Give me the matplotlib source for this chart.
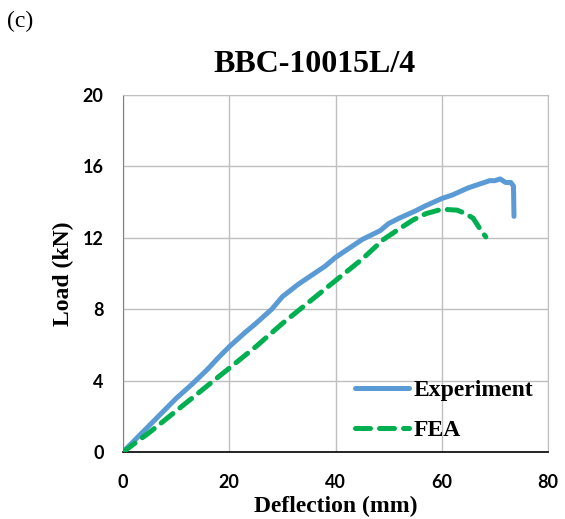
import matplotlib
matplotlib.use("Agg")
import matplotlib.pyplot as plt

exp_x = [0, 2, 5, 8, 10, 13, 15.8, 18, 20, 23, 25, 28, 30, 33, 35, 38, 40, 43, 45, 48.4,
         50, 52, 55, 57, 60, 62, 65, 67, 69, 70, 71, 72, 73, 73.5, 73.6]
exp_y = [0, 0.6, 1.5, 2.4, 3.0, 3.8, 4.6, 5.3, 5.9, 6.7, 7.2, 8.0, 8.7, 9.4, 9.8, 10.4, 10.9,
         11.5, 11.9, 12.4, 12.8, 13.1, 13.5, 13.8, 14.2, 14.4, 14.8, 15.0, 15.2, 15.2, 15.3,
         15.1, 15.1, 14.9, 13.2]

fea_x = [0, 5, 10, 15, 19.6, 25, 30, 35, 40, 45, 49, 52, 54.6, 57, 60, 62.9, 64.5, 65.9, 67.2, 68.3]
fea_y = [0, 1.1, 2.3, 3.5, 4.6, 5.9, 7.2, 8.4, 9.6, 10.8, 11.9, 12.5, 13.0, 13.35, 13.6,
         13.55, 13.35, 13.1, 12.5, 12.05]

x_ticks = [0, 20, 40, 60, 80]
y_ticks = [0, 4, 8, 12, 16, 20]

serif = "Liberation Serif"
sans = "Lato"

fig = plt.figure(figsize=(5.65, 5.19), dpi=100)
ax = fig.add_axes([123/565, 1-452/519, 425/565, 357/519])

ax.plot(exp_x, exp_y, color="#5B9BD5", lw=3.6, solid_capstyle="round", label="Experiment", zorder=3)
ax.plot(fea_x, fea_y, color="#00B050", lw=3.6, ls=(0, (3, 1.8)), dash_capstyle="round",
        label="FEA", zorder=3)

ax.set_xlim(0, 80)
ax.set_ylim(0, 20)
ax.set_xticks(x_ticks)
ax.set_yticks(y_ticks)
ax.grid(True, color="#BFBFBF", lw=1)
ax.set_axisbelow(True)
ax.tick_params(axis="x", length=0, pad=16)
ax.tick_params(axis="y", length=0, pad=14)
for lab in ax.get_xticklabels() + ax.get_yticklabels():
    lab.set_fontfamily(sans)
    lab.set_fontweight("bold")
    lab.set_fontsize(13)
for s in ["top", "right"]:
    ax.spines[s].set_color("#BFBFBF")
ax.spines["left"].set_color("#808080")
ax.spines["bottom"].set_color("#000000")
ax.spines["bottom"].set_linewidth(1.2)

ax.set_xlabel("Deflection (mm)", fontfamily=serif, fontweight="bold", fontsize=17)
ax.xaxis.set_label_coords(0.5, -(506-452)/357)
ax.xaxis.label.set_va("center")
ax.set_ylabel("Load (kN)", fontfamily=serif, fontweight="bold", fontsize=17, labelpad=6)

fig.text(0.557, 1-65/519, "BBC-10015L/4", fontfamily=serif, fontweight="bold", fontsize=23,
         ha="center", va="center")
fig.text(7/565, 1-21/519, "(c)", fontfamily=serif, fontsize=17, ha="left", va="center")

leg = ax.legend(loc="lower left", bbox_to_anchor=((355-123)/425, 0.03), frameon=False,
                prop={"family": serif, "weight": "bold", "size": 17},
                handlelength=2.3, handletextpad=0.2, labelspacing=0.8,
                borderpad=0, borderaxespad=0)

fig.savefig("out.png", dpi=100)
